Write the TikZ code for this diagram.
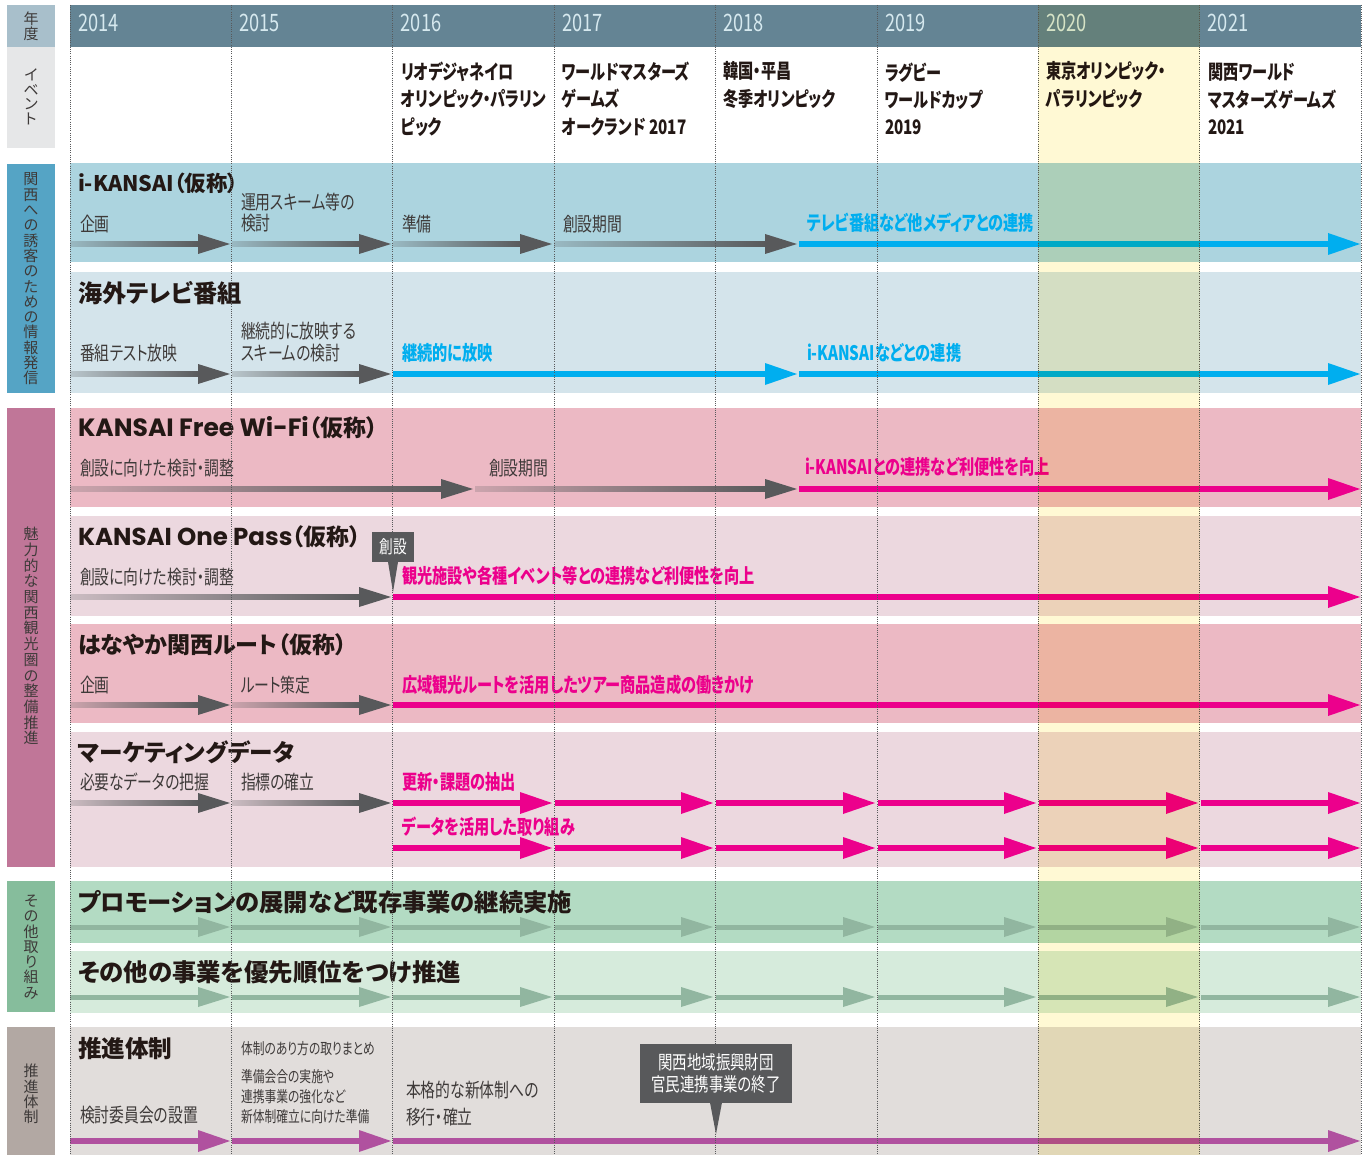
\documentclass[tikz,border=0pt]{standalone}
\usepackage{fontspec}
\setmainfont{Noto Sans CJK JP}[RawFeature=+palt]
\newfontfamily\cond{Noto Sans CJK JP}[FakeStretch=0.76,RawFeature=+palt]
\newfontfamily\latfont{Poppins}
\definecolor{hdr}{HTML}{648494}
\definecolor{hdrtext}{HTML}{D6E9EF}
\definecolor{labyr}{HTML}{A8BFCB}
\definecolor{labev}{HTML}{E6E7E8}
\definecolor{sec1}{HTML}{55A4C5}
\definecolor{sec2}{HTML}{C07698}
\definecolor{sec3}{HTML}{86BD9C}
\definecolor{sec4}{HTML}{B2A8A3}
\definecolor{blue1}{HTML}{ACD4DF}
\definecolor{blue2}{HTML}{D4E4EB}
\definecolor{pink1}{HTML}{ECB9C4}
\definecolor{pink2}{HTML}{ECD8DF}
\definecolor{green1}{HTML}{B3DBC3}
\definecolor{green2}{HTML}{D6EBDC}
\definecolor{grayband}{HTML}{E1DDDB}
\definecolor{hl}{HTML}{FFF9D4}
\definecolor{agray}{HTML}{58595B}
\definecolor{acyan}{HTML}{00AEEF}
\definecolor{amag}{HTML}{EC008C}
\definecolor{agreen}{HTML}{91B6A0}
\definecolor{apurple}{HTML}{B0519F}
\definecolor{txtdark}{HTML}{231815}
\definecolor{txtgray}{HTML}{3E3A39}
\newcommand\garr[4]{%
  \shade[left color=#4!78!agray, right color=agray] (#1,#3-2.5) rectangle (#2-30,#3+2.5);
  \fill[agray] (#2-32,#3-10) -- (#2,#3) -- (#2-32,#3+10) -- cycle;}
\newcommand\carr[4]{%
  \fill[#4] (#1,#3-3) rectangle (#2-30,#3+3);
  \fill[#4] (#2-32,#3-11) -- (#2,#3) -- (#2-32,#3+11) -- cycle;}
\newcommand\narr[3]{%
  \fill[agreen] (#1,#3-2.5) rectangle (#2-30,#3+2.5);
  \fill[agreen] (#2-32,#3-10) -- (#2,#3) -- (#2-32,#3+10) -- cycle;}
\begin{document}
\begin{tikzpicture}[x=1pt,y=-1pt,
  every node/.style={inner sep=0pt, outer sep=0pt},
  yr/.style={anchor=west, text=hdrtext, font=\cond\fontsize{24}{26}\selectfont},
  ev/.style={anchor=west, align=left, text=txtdark, font=\cond\bfseries\fontsize{20}{27.3}\selectfont},
  ttl/.style={anchor=west, text=txtdark, font=\bfseries\fontsize{23}{26}\selectfont},
  lbl/.style={anchor=west, align=left, text=txtgray, font=\cond\fontsize{19.5}{21.5}\selectfont},
  clbl/.style={anchor=west, font=\cond\bfseries\fontsize{20}{22}\selectfont},
  small/.style={anchor=west, align=left, text=txtgray, font=\cond\fontsize{15.5}{20}\selectfont},
  vlab/.style={align=center, text=txtgray, font=\fontsize{15}{#1}\selectfont},
  vlab/.default=15.3,
  callout/.style={fill=agray, text=white, align=center, font=\cond\fontsize{19}{22}\selectfont},
  gridline/.style={agray, line width=0.8pt, dash pattern=on 1pt off 1.2pt},
]
\useasboundingbox (0,0) rectangle (1370,1155);
\fill[white] (0,0) rectangle (1370,1155);
% left labels
\fill[labyr] (7,5) rectangle (55,47);
\fill[labev] (7,47) rectangle (55,148);
\fill[sec1] (7,164) rectangle (55,393);
\fill[sec2] (7,408) rectangle (55,867);
\fill[sec3] (7,881) rectangle (55,1012);
\fill[sec4] (7,1027) rectangle (55,1155);
% header and bands
\fill[hdr] (70,5) rectangle (1361,47);
\fill[blue1] (70,163) rectangle (1361,262);
\fill[blue2] (70,272) rectangle (1361,393);
\fill[pink1] (70,408) rectangle (1361,507);
\fill[pink2] (70,516) rectangle (1361,616);
\fill[pink1] (70,624) rectangle (1361,723);
\fill[pink2] (70,732) rectangle (1361,867);
\fill[green1] (70,881) rectangle (1361,943);
\fill[green2] (70,951) rectangle (1361,1013);
\fill[grayband] (70,1027) rectangle (1361,1155);
% arrows row 1
\garr{70}{230}{244}{blue1}
\garr{232}{391}{244}{blue1}
\garr{393}{552}{244}{blue1}
\garr{554}{797}{244}{blue1}
\carr{799}{1360}{244}{acyan}
% row 2
\garr{70}{230}{374}{blue2}
\garr{232}{391}{374}{blue2}
\carr{393}{797}{374}{acyan}
\carr{799}{1360}{374}{acyan}
% row 3
\garr{70}{473}{489}{pink1}
\garr{475}{797}{489}{pink1}
\carr{799}{1360}{489}{amag}
% row 4
\garr{70}{391}{597}{pink2}
\carr{393}{1360}{597}{amag}
% row 5
\garr{70}{230}{705}{pink1}
\garr{232}{391}{705}{pink1}
\carr{393}{1360}{705}{amag}
% row 6
\garr{70}{230}{803}{pink2}
\garr{232}{391}{803}{pink2}
\foreach \a/\b in {393/552,555/713,716/875,878/1036,1039/1198,1201/1360}{%
  \carr{\a}{\b}{803}{amag}
  \carr{\a}{\b}{848}{amag}}
% rows 7, 8
\foreach \a/\b in {70/230,232/391,393/552,555/713,716/875,878/1036,1039/1198,1201/1360}{%
  \narr{\a}{\b}{927}
  \narr{\a}{\b}{997}}
% row 9
\carr{70}{230}{1141}{apurple}
\carr{232}{391}{1141}{apurple}
\carr{393}{1360}{1141}{apurple}
% header years
\node[yr] (y2014) at (78,23) {2014};
\node[yr] (y2015) at (239.4,23) {2015};
\node[yr] (y2016) at (400.8,23) {2016};
\node[yr] (y2017) at (562.2,23) {2017};
\node[yr] (y2018) at (723.6,23) {2018};
\node[yr] (y2019) at (885,23) {2019};
\node[yr] (y2020) at (1046.4,23) {2020};
\node[yr] (y2021) at (1207.8,23) {2021};
% events
\node[ev] (e2016) at (401,99) {リオデジャネイロ\\オリンピック・パラリン\\ピック};
\node[ev] (e2017) at (562,99) {ワールドマスターズ\\ゲームズ\\オークランド 2017};
\node[ev] (e2018) at (723,85) {韓国・平昌\\冬季オリンピック};
\node[ev] (e2019) at (885,99) {ラグビー\\ワールドカップ\\2019};
\node[ev] (e2020) at (1046,85) {東京オリンピック・\\パラリンピック};
\node[ev] (e2021) at (1208,99) {関西ワールド\\マスターズゲームズ\\2021};
% titles
\node[ttl, font=\bfseries\fontsize{21.5}{26}\selectfont] (t1) at (78,183) {i-KANSAI（仮称）};
\node[ttl, font=\bfseries\fontsize{24.2}{26}\selectfont] (t2) at (78,293) {海外テレビ番組};
\node[ttl] (t3) at (78,428) {{\latfont\bfseries\fontsize{25}{26}\selectfont KANSAI Free Wi-Fi}（仮称）};
\node[ttl] (t4) at (78,537) {{\latfont\bfseries\fontsize{24.5}{26}\selectfont KANSAI One Pass}（仮称）};
\node[ttl] (t5) at (78,645) {はなやか関西ルート（仮称）};
\node[ttl, font=\bfseries\fontsize{23.6}{26}\selectfont] (t6) at (78,752) {マーケティングデータ};
\node[ttl, font=\bfseries\fontsize{24.3}{26}\selectfont] (t7) at (78,902) {プロモーションの展開など既存事業の継続実施};
\node[ttl, font=\bfseries\fontsize{24.4}{26}\selectfont] (t8) at (78,972) {その他の事業を優先順位をつけ推進};
\node[ttl, font=\bfseries\fontsize{23.6}{26}\selectfont] (t9) at (78,1048) {推進体制};
% labels
\node[lbl] (l11) at (80,224) {企画};
\node[lbl] (l12) at (241,212.5) {運用スキーム等の\\検討};
\node[lbl] (l13) at (402,224) {準備};
\node[lbl] (l14) at (563,224) {創設期間};
\node[clbl, text=acyan] (l15) at (807,223) {テレビ番組など他メディアとの連携};
\node[lbl] (l21) at (80,353) {番組テスト放映};
\node[lbl] (l22) at (241,342) {継続的に放映する\\スキームの検討};
\node[clbl, text=acyan] (l23) at (402,353) {継続的に放映};
\node[clbl, text=acyan] (l24) at (807,353) {i-KANSAIなどとの連携};
\node[lbl] (l31) at (80,468) {創設に向けた検討・調整};
\node[lbl] (l32) at (489,468) {創設期間};
\node[clbl, text=amag] (l33) at (805,467) {i-KANSAIとの連携など利便性を向上};
\node[lbl] (l41) at (80,577) {創設に向けた検討・調整};
\node[clbl, text=amag] (l42) at (402,576) {観光施設や各種イベント等との連携など利便性を向上};
\node[lbl] (l51) at (80,685) {企画};
\node[lbl] (l52) at (241,685) {ルート策定};
\node[clbl, text=amag] (l53) at (402,685) {広域観光ルートを活用したツアー商品造成の働きかけ};
\node[lbl] (l61) at (80,782) {必要なデータの把握};
\node[lbl] (l62) at (241,782) {指標の確立};
\node[clbl, text=amag] (l63) at (402,782) {更新・課題の抽出};
\node[clbl, text=amag] (l64) at (402,827) {データを活用した取り組み};
\node[lbl] (l91) at (80,1115) {検討委員会の設置};
\node[small] (l92) at (241,1049) {体制のあり方の取りまとめ};
\node[small] (l93) at (241,1097) {準備会合の実施や\\連携事業の強化など\\新体制確立に向けた準備};
\node[lbl, font=\cond\fontsize{19.5}{27}\selectfont] (l94) at (406,1103.5) {本格的な新体制への\\移行・確立};
% vertical section labels
\node[vlab] (s0) at (31,26) {年\\度};
\node[vlab=14.5] (s1) at (31,97) {イ\\ベ\\ン\\ト};
\node[vlab] (s2) at (31,279) {関\\西\\へ\\の\\誘\\客\\の\\た\\め\\の\\情\\報\\発\\信};
\node[vlab=15.7] (s3) at (31,636) {魅\\力\\的\\な\\関\\西\\観\\光\\圏\\の\\整\\備\\推\\進};
\node[vlab] (s4) at (31,947) {そ\\の\\他\\取\\り\\組\\み};
\node[vlab] (s5) at (31,1094) {推\\進\\体\\制};
% dotted year lines
\foreach \i in {0,...,8}{\draw[gridline] (70+161.4*\i,5) -- (70+161.4*\i,1155);}
% callouts
\node[callout, minimum width=42pt, minimum height=30pt, font=\cond\fontsize{18}{20}\selectfont] (c1) at (393,547) {創設};
\coordinate (p1) at (393,592);
\fill[agray] ([xshift=-5pt]c1.south) -- ([xshift=5pt]c1.south) -- (p1) -- cycle;
\node[callout, minimum width=152pt, minimum height=59pt] (c2) at (716,1073) {関西地域振興財団\\官民連携事業の終了};
\coordinate (p2) at (716,1134);
\fill[agray] ([xshift=-6pt]c2.south) -- ([xshift=6pt]c2.south) -- (p2) -- cycle;
% 2020 highlight
\fill[hl, blend mode=multiply] (1038.4,5) rectangle (1199.8,1155);
\end{tikzpicture}
\end{document}
